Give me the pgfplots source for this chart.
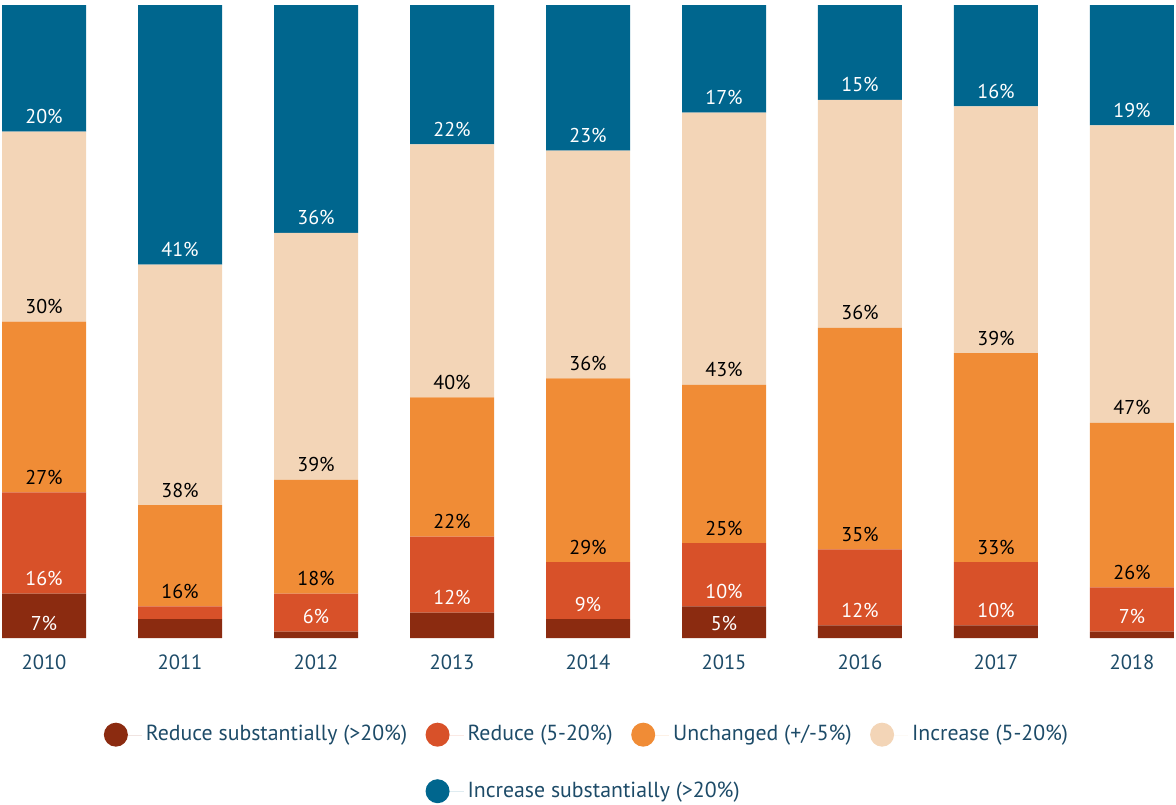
\documentclass[border=0pt]{standalone}
\usepackage{pgfplots}
\pgfplotsset{compat=1.18}
\usepackage{fontspec}
\setmainfont{PT Sans}
\definecolor{cRS}{HTML}{8B2B10}
\definecolor{cR}{HTML}{D85129}
\definecolor{cU}{HTML}{F08C36}
\definecolor{cI}{HTML}{F3D5B7}
\definecolor{cIS}{HTML}{00668E}
\definecolor{cTxt}{HTML}{1D4B68}
\pgfplotsset{circ legend/.style={legend image code/.code={%
  \fill[##1,draw=none] (6pt,0pt) circle (6pt);
  \path (0pt,0pt) rectangle (19pt,0pt);}},
  base/.style={scale only axis, width=586pt, height=316.5pt,
  xmin=-0.309, xmax=8.309, ymin=0, ymax=100},
  lab/.style={draw=none, mark=none, point meta=explicit symbolic,
    nodes near coords={\pgfplotspointmeta\%},
    every node near coord/.append style={anchor=center, inner sep=0pt, yshift=7.5pt, text=#1}}}
\begin{document}
\begin{tikzpicture}[font=\fontsize{10pt}{12pt}\selectfont]
\begin{axis}[base,
  ybar stacked, bar width=42pt,
  axis line style={draw=none}, major tick length=0pt,
  ytick=\empty,
  xtick={0,...,8},
  xticklabels={2010,2011,2012,2013,2014,2015,2016,2017,2018},
  xticklabel style={anchor=base, text=cTxt, font=\fontsize{10.3pt}{12pt}\selectfont},
  xticklabel shift=15.5pt,
  legend columns=4,
  legend style={at={(0.5,0)}, anchor=north, yshift=-39.5pt, draw=none, fill=none,
    text=cTxt, font=\fontsize{10.9pt}{13pt}\selectfont,
    /tikz/every even column/.append style={column sep=7.2pt},
    row sep=15pt},
]
\addplot[fill=cRS, draw=none, circ legend] coordinates {
 (0,7) (1,3) (2,1) (3,4) (4,3) (5,5) (6,2) (7,2) (8,1)};
\addlegendentry{Reduce substantially (>20\%)}
\addplot[fill=cR, draw=none, circ legend] coordinates {
 (0,16) (1,2) (2,6) (3,12) (4,9) (5,10) (6,12) (7,10) (8,7)};
\addlegendentry{Reduce (5-20\%)}
\addplot[fill=cU, draw=none, circ legend] coordinates {
 (0,27) (1,16) (2,18) (3,22) (4,29) (5,25) (6,35) (7,33) (8,26)};
\addlegendentry{Unchanged (+/-5\%)}
\addplot[fill=cI, draw=none, circ legend] coordinates {
 (0,30) (1,38) (2,39) (3,40) (4,36) (5,43) (6,36) (7,39) (8,47)};
\addlegendentry{Increase (5-20\%)}
\addlegendimage{empty legend}
\addlegendentry{}
\addplot[fill=cIS, draw=none, circ legend] coordinates {
 (0,20) (1,41) (2,36) (3,22) (4,23) (5,17) (6,15) (7,16) (8,19)};
\addlegendentry{\rlap{Increase substantially (>20\%)}\phantom{Reduce (5-20\%)}}
\end{axis}
% value labels, placed at the bottom of each segment
\begin{axis}[base, hide axis]
\addplot[lab=white] coordinates {(0,0)[7] (5,0)[5]};
\addplot[lab=white] coordinates {(0,7)[16] (2,1)[6] (3,4)[12] (4,3)[9] (5,5)[10] (6,2)[12] (7,2)[10] (8,1)[7]};
\addplot[lab=black] coordinates {(0,23)[27] (1,5)[16] (2,7)[18] (3,16)[22] (4,12)[29] (5,15)[25] (6,14)[35] (7,12)[33] (8,8)[26]};
\addplot[lab=black] coordinates {(0,50)[30] (1,21)[38] (2,25)[39] (3,38)[40] (4,41)[36] (5,40)[43] (6,49)[36] (7,45)[39] (8,34)[47]};
\addplot[lab=white] coordinates {(0,80)[20] (1,59)[41] (2,64)[36] (3,78)[22] (4,77)[23] (5,83)[17] (6,85)[15] (7,84)[16] (8,81)[19]};
\end{axis}
\pgfresetboundingbox
\path ([shift={(-1pt,-83.5pt)}]current axis.south west) rectangle ([shift={(1pt,2.5pt)}]current axis.north east);
\end{tikzpicture}
\end{document}
